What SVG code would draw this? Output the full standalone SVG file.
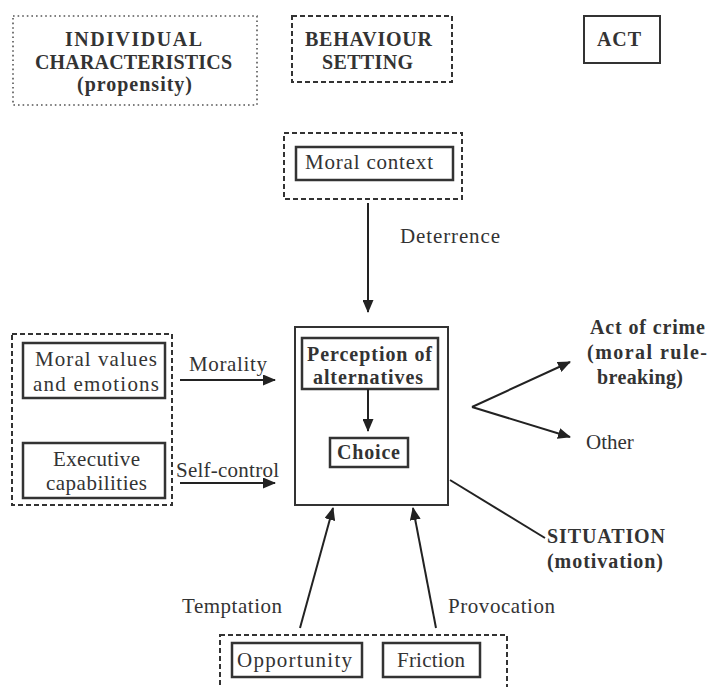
<svg xmlns="http://www.w3.org/2000/svg" width="709" height="687" viewBox="0 0 709 687">
<defs>
<marker id="ah" viewBox="0 0 13 11" refX="12" refY="5.5" markerWidth="13" markerHeight="11" orient="auto" markerUnits="userSpaceOnUse">
<path d="M0,0 L13,5.5 L0,11 z" fill="#222"/>
</marker>
<style>
text{font-family:'Liberation Serif','DejaVu Serif',serif;fill:#333;font-size:21px}
.b{font-weight:bold;font-size:20px}
.h{font-weight:bold;font-size:20px}
.solid{fill:none;stroke:#333;stroke-width:2}
.dbl{fill:none;stroke:#333;stroke-width:2.5}
.dash{fill:none;stroke:#333;stroke-width:2;stroke-dasharray:5 3}
.dot{fill:none;stroke:#555;stroke-width:1.6;stroke-dasharray:1.6 3}
.ln{fill:none;stroke:#222;stroke-width:2}
</style>
</defs>
<rect width="709" height="687" fill="#fff"/>
<g id="legend-individual">
<rect class="dot" x="13" y="16" width="244" height="89"/>
<text class="h" x="65" y="46" textLength="137">INDIVIDUAL</text>
<text class="h" x="35" y="69" textLength="197">CHARACTERISTICS</text>
<text class="h" x="77" y="91" textLength="115">(propensity)</text>
</g>
<g id="legend-setting">
<rect class="dash" x="292" y="16" width="160" height="66"/>
<text class="h" x="305" y="46" textLength="127">BEHAVIOUR</text>
<text class="h" x="322" y="69" textLength="91">SETTING</text>
</g>
<g id="legend-act">
<rect class="solid" x="584" y="16" width="76" height="47"/>
<text class="h" x="597" y="46" textLength="44">ACT</text>
</g>
<g id="moral-context">
<rect class="dash" x="284" y="133" width="178" height="66"/>
<rect class="dbl" x="296" y="147" width="157" height="33"/>
<text x="305" y="169" textLength="128">Moral context</text>
</g>
<g id="individual">
<rect class="dash" x="12" y="334" width="160" height="171"/>
<rect class="dbl" x="23" y="343" width="142" height="55"/>
<text x="35" y="366" textLength="122">Moral values</text>
<text x="33" y="391" textLength="126">and emotions</text>
<rect class="dbl" x="23" y="443" width="142" height="55"/>
<text x="53" y="466" textLength="87">Executive</text>
<text x="46" y="490" textLength="101">capabilities</text>
</g>
<g id="situation">
<rect class="solid" x="295" y="327" width="153" height="178"/>
<rect class="dbl" x="302" y="338" width="136" height="51"/>
<text class="b" x="307" y="361" textLength="125">Perception of</text>
<text class="b" x="313" y="384" textLength="110">alternatives</text>
<rect class="dbl" x="330" y="438" width="78" height="29"/>
<text class="b" x="337" y="459" textLength="63">Choice</text>
</g>
<g id="act-crime">
<text class="b" x="590" y="334" textLength="115">Act of crime</text>
<text class="b" x="587" y="359" textLength="120">(moral rule-</text>
<text class="b" x="597" y="384" textLength="86">breaking)</text>
</g>
<g id="act-other">
<text x="586" y="449">Other</text>
</g>
<g id="situation-label">
<text class="b" x="547" y="543" textLength="118">SITUATION</text>
<text class="b" x="547" y="568" textLength="116">(motivation)</text>
</g>
<g id="setting-bottom">
<rect class="dash" x="220" y="635" width="287" height="70"/>
<rect class="dbl" x="232" y="643" width="130" height="34"/>
<text x="237" y="667" textLength="115">Opportunity</text>
<rect class="dbl" x="383" y="643" width="97" height="34"/>
<text x="397" y="667" textLength="68">Friction</text>
</g>
<g id="connectors">
<line class="ln" x1="368" y1="203" x2="368" y2="312" marker-end="url(#ah)"/>
<text x="400" y="243" textLength="100">Deterrence</text>
<line class="ln" x1="180" y1="380" x2="275" y2="380" marker-end="url(#ah)"/>
<text x="189" y="371" textLength="78">Morality</text>
<line class="ln" x1="180" y1="483" x2="275" y2="483" marker-end="url(#ah)"/>
<text x="176" y="477" textLength="103">Self-control</text>
<line class="ln" x1="368" y1="389" x2="368" y2="431" marker-end="url(#ah)"/>
<line class="ln" x1="472" y1="407" x2="570" y2="362" marker-end="url(#ah)"/>
<line class="ln" x1="472" y1="407" x2="570" y2="437" marker-end="url(#ah)"/>
<line class="ln" x1="450" y1="480" x2="545" y2="538"/>
<line class="ln" x1="300" y1="628" x2="333" y2="508" marker-end="url(#ah)"/>
<line class="ln" x1="436" y1="628" x2="413" y2="508" marker-end="url(#ah)"/>
<text x="182" y="613" textLength="100">Temptation</text>
<text x="448" y="613" textLength="107">Provocation</text>
</g>
</svg>
